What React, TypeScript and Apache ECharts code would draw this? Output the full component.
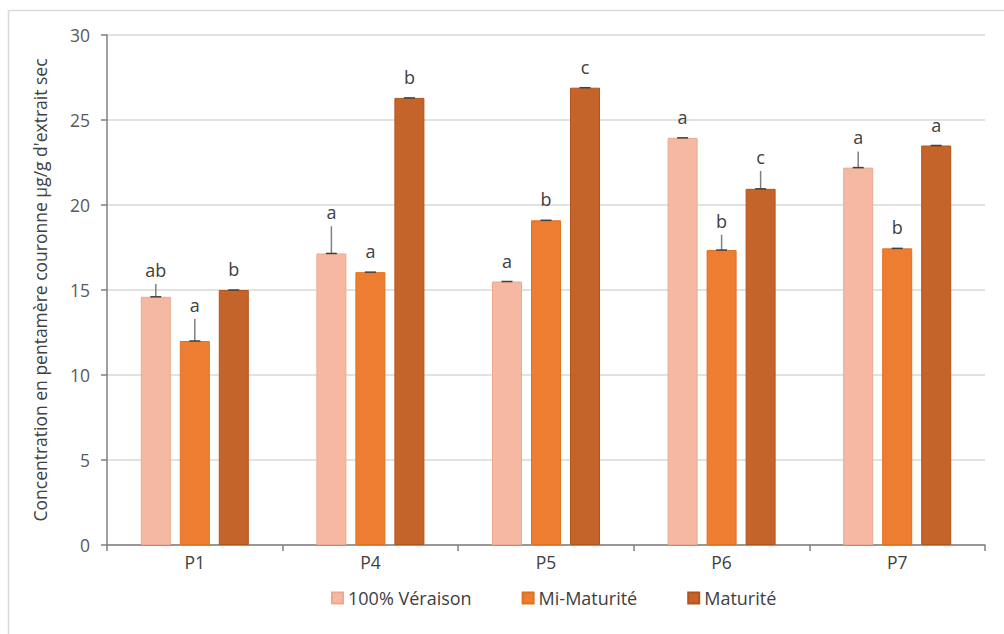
import React, { useEffect, useRef } from "react";
import * as echarts from "echarts";

const categories = ["P1", "P4", "P5", "P6", "P7"];
const seriesNames = ["100% Véraison", "Mi-Maturité", "Maturité"];
const veraison = [14.6, 17.15, 15.5, 23.95, 22.2];
const miMaturite = [12.0, 16.05, 19.1, 17.35, 17.45];
const maturite = [15.0, 26.3, 26.9, 20.95, 23.5];
const veraisonErr = [0.75, 1.6, 0.0, 0.0, 0.95];
const miMaturiteErr = [1.3, 0.0, 0.0, 0.9, 0.0];
const maturiteErr = [0.0, 0.0, 0.0, 1.05, 0.0];
const veraisonLetters = ["ab", "a", "a", "a", "a"];
const miMaturiteLetters = ["a", "a", "b", "b", "b"];
const maturiteLetters = ["b", "b", "c", "c", "a"];
const yTicks = [0, 5, 10, 15, 20, 25, 30];

const colors = ["#F4B8A3", "#ED7D31", "#C4642A"];
const borders = ["#EFA88F", "#E2701F", "#B3541B"];
const FONT = "'Open Sans', 'Noto Sans', sans-serif";

export default function App() {
  const ref = useRef<HTMLDivElement>(null);
  useEffect(() => {
    if (!ref.current) return;
    const chart = echarts.init(ref.current, null, { renderer: "svg" });
    const values = [veraison, miMaturite, maturite];
    const errs = [veraisonErr, miMaturiteErr, maturiteErr];
    const letters = [veraisonLetters, miMaturiteLetters, maturiteLetters];
    const barWidth = 30;
    const step = 39;

    const bars = values.map((v, i) => ({
      name: seriesNames[i],
      type: "bar",
      data: v,
      barWidth,
      barGap: "30%",
      itemStyle: { color: colors[i], borderColor: borders[i], borderWidth: 1 },
      z: 2,
    }));

    const customs = values.map((v, i) => ({
      type: "custom",
      name: "err" + i,
      silent: true,
      z: 5,
      data: v.map((val, k) => [k, val, errs[i][k]]),
      encode: { x: 0, y: 1 },
      renderItem: (params: any, api: any) => {
        const k = api.value(0);
        const val = api.value(1);
        const e = api.value(2);
        const base = api.coord([k, val]);
        const topP = api.coord([k, val + e]);
        const x = base[0] + (i - 1) * step;
        const barTop = base[1];
        const errTop = topP[1];
        const children: any[] = [];
        if (e > 0.1) {
          children.push({
            type: "line",
            shape: { x1: x, y1: barTop, x2: x, y2: errTop },
            style: { stroke: "#7F7F7F", lineWidth: 1.5 },
          });
        }
        children.push({
          type: "line",
          shape: { x1: x - 5.5, y1: barTop, x2: x + 5.5, y2: barTop },
          style: { stroke: "#404040", lineWidth: 1.5 },
        });
        const ly = Math.min(errTop - 14, barTop - 21);
        children.push({
          type: "text",
          style: {
            text: letters[i][k],
            x,
            y: ly,
            align: "center",
            verticalAlign: "middle",
            fill: "#404040",
            fontSize: 18,
            fontFamily: FONT,
          },
        });
        return { type: "group", children };
      },
    }));

    chart.setOption({
      animation: false,
      backgroundColor: "#ffffff",
      graphic: [
        {
          type: "rect",
          shape: { x: 8.5, y: 10.5, width: 1100, height: 800 },
          style: { fill: "none", stroke: "#D9D9D9", lineWidth: 1.5 },
          silent: true,
        },
      ],
      grid: { left: 107, right: 19, top: 35, bottom: 89, containLabel: false },
      legend: {
        data: seriesNames,
        left: 326,
        top: 584,
        icon: "rect",
        itemWidth: 11,
        itemHeight: 11,
        itemGap: 50,
        textStyle: { fontSize: 18, color: "#404040", fontFamily: FONT },
      },
      xAxis: {
        type: "category",
        data: categories,
        axisLine: { lineStyle: { color: "#7F7F7F", width: 1.5 } },
        axisTick: { show: true, length: 6, lineStyle: { color: "#7F7F7F", width: 1.5 } },
        axisLabel: { fontSize: 17.5, color: "#404040", fontFamily: FONT, margin: 8 },
      },
      yAxis: {
        type: "value",
        min: yTicks[0],
        max: yTicks[yTicks.length - 1],
        interval: 5,
        name: "Concentration en pentamère couronne µg/g d'extrait sec",
        nameLocation: "middle",
        nameGap: 58,
        nameTextStyle: { fontSize: 17.5, color: "#404040", fontFamily: FONT },
        axisLine: { show: true, lineStyle: { color: "#7F7F7F", width: 1.5 } },
        axisTick: { show: true, length: 6, lineStyle: { color: "#7F7F7F", width: 1.5 } },
        axisLabel: { fontSize: 17.5, color: "#595959", fontFamily: FONT, margin: 17 },
        splitLine: { lineStyle: { color: "#D9D9D9", width: 1.5 } },
      },
      series: [...bars, ...customs],
    });
    return () => chart.dispose();
  }, []);
  return (
    <div
      ref={ref}
      style={{ position: "absolute", left: 0, top: 0, width: 1004, height: 634 }}
    />
  );
}
